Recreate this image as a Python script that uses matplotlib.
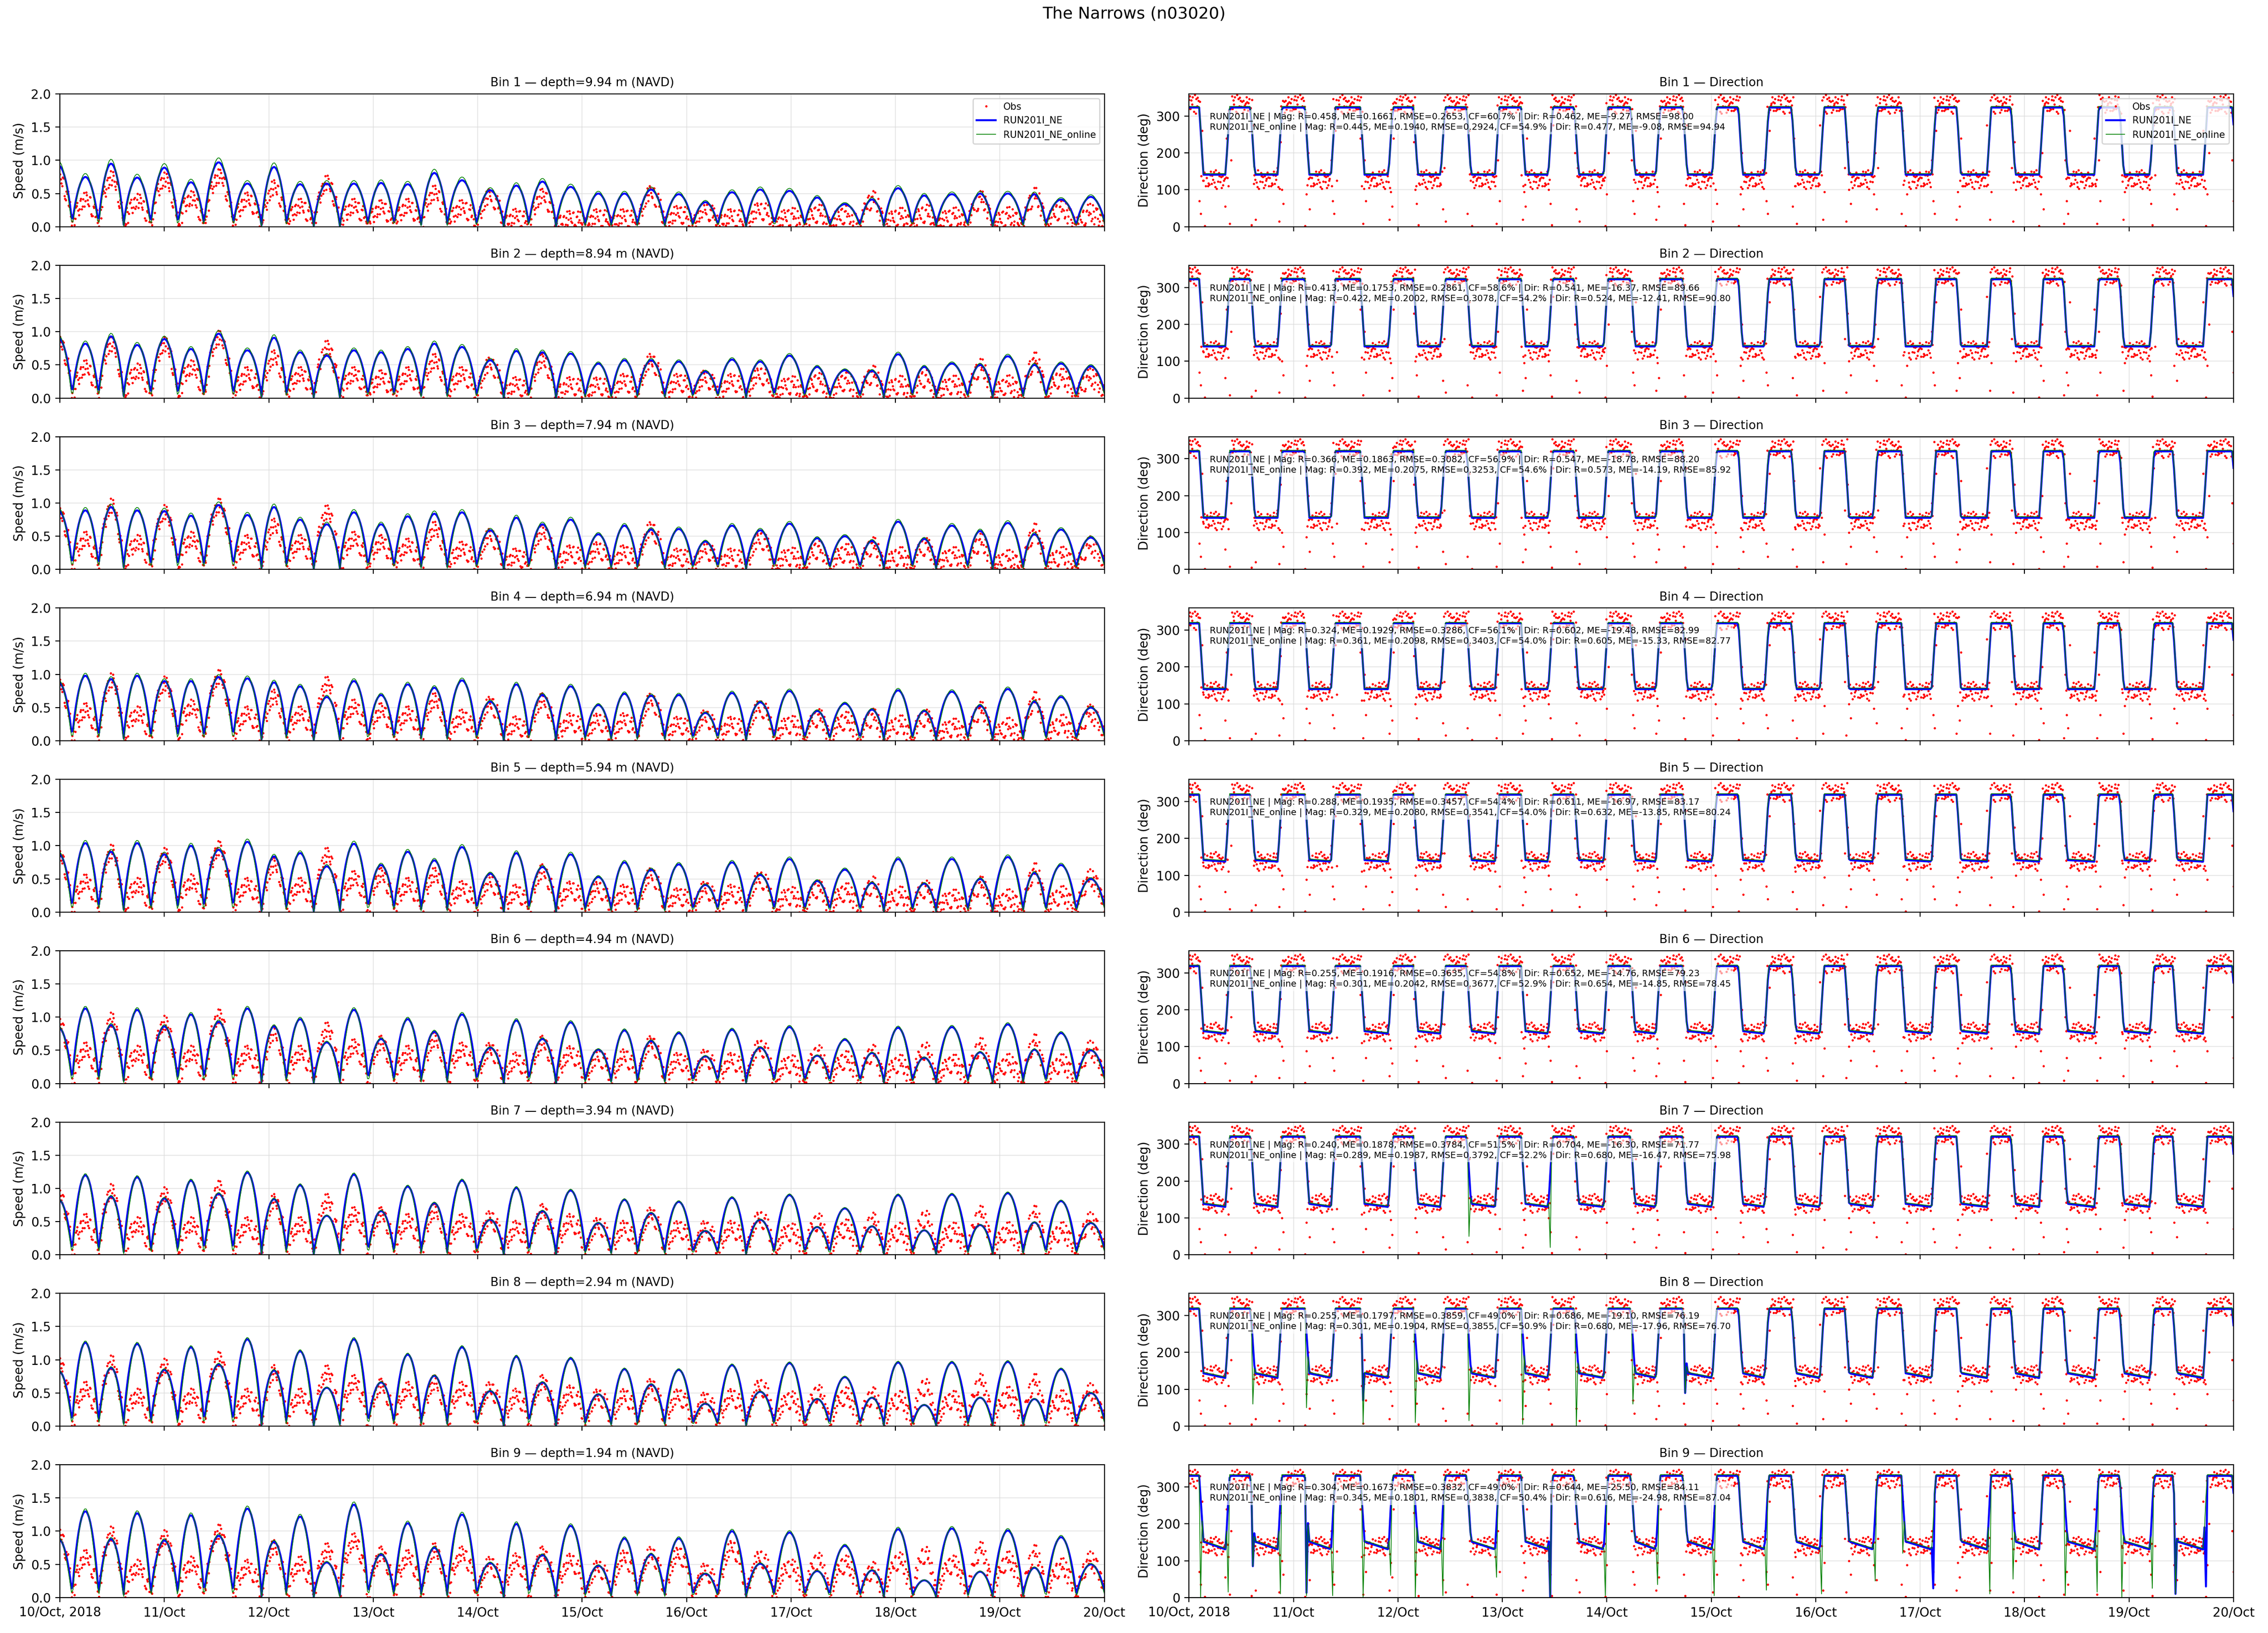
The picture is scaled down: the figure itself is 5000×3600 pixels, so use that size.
import numpy as np
import pandas as pd
import matplotlib
matplotlib.use("Agg")
import matplotlib.pyplot as plt
import matplotlib.dates as mdates
from matplotlib.ticker import FuncFormatter

station = "The Narrows (n03020)"
run_a = "RUN201I_NE"
run_b = "RUN201I_NE_online"
start = pd.Timestamp("2018-10-10 00:00")
end = pd.Timestamp("2018-10-20 00:00")

depths = [9.94, 8.94, 7.94, 6.94, 5.94, 4.94, 3.94, 2.94, 1.94]

# slack water times (days after 10/Oct 00:00)
slack_days = [-0.14, 0.118, 0.37, 0.61, 0.87, 1.13, 1.38, 1.66, 1.93, 2.17,
              2.43, 2.68, 2.95, 3.20, 3.46, 3.71, 3.99, 4.25, 4.49, 4.75,
              5.03, 5.28, 5.53, 5.79, 6.06, 6.30, 6.57, 6.84, 7.13, 7.37,
              7.66, 7.89, 8.16, 8.39, 8.69, 8.93, 9.22, 9.44, 9.73, 10.01, 10.25]

# model (RUN201I_NE) speed peak of every half tide, per bin
model_peaks = [
    [0.92, 0.75, 0.95, 0.74, 0.89, 0.67, 0.97, 0.65, 0.90, 0.64, 0.65, 0.65, 0.66, 0.64, 0.81, 0.70, 0.55, 0.62, 0.68, 0.60,
     0.50, 0.50, 0.56, 0.49, 0.37, 0.52, 0.56, 0.54, 0.44, 0.34, 0.41, 0.58, 0.47, 0.49, 0.50, 0.50, 0.49, 0.41, 0.45, 0.30],
    [0.90, 0.82, 0.93, 0.80, 0.89, 0.74, 0.97, 0.72, 0.91, 0.69, 0.64, 0.72, 0.69, 0.74, 0.82, 0.77, 0.57, 0.71, 0.69, 0.67,
     0.52, 0.57, 0.57, 0.55, 0.40, 0.58, 0.55, 0.64, 0.47, 0.42, 0.41, 0.66, 0.47, 0.52, 0.50, 0.63, 0.50, 0.52, 0.48, 0.30],
    [0.88, 0.89, 0.94, 0.89, 0.88, 0.81, 0.97, 0.82, 0.94, 0.75, 0.68, 0.86, 0.68, 0.80, 0.84, 0.86, 0.59, 0.78, 0.68, 0.75,
     0.53, 0.66, 0.60, 0.61, 0.42, 0.66, 0.59, 0.69, 0.47, 0.50, 0.43, 0.72, 0.46, 0.66, 0.58, 0.70, 0.53, 0.60, 0.48, 0.30],
    [0.88, 0.98, 0.93, 0.98, 0.90, 0.90, 0.96, 0.94, 0.88, 0.82, 0.66, 0.90, 0.69, 0.85, 0.80, 0.91, 0.59, 0.85, 0.69, 0.82,
     0.54, 0.71, 0.68, 0.69, 0.42, 0.72, 0.58, 0.75, 0.45, 0.56, 0.47, 0.76, 0.45, 0.74, 0.53, 0.78, 0.59, 0.66, 0.50, 0.30],
    [0.88, 1.04, 0.91, 1.04, 0.87, 1.00, 0.94, 1.06, 0.84, 0.89, 0.69, 1.03, 0.71, 0.91, 0.78, 0.98, 0.58, 0.89, 0.68, 0.87,
     0.53, 0.75, 0.64, 0.72, 0.41, 0.75, 0.56, 0.80, 0.47, 0.64, 0.44, 0.80, 0.43, 0.80, 0.50, 0.83, 0.59, 0.71, 0.50, 0.30],
    [0.84, 1.13, 0.88, 1.11, 0.86, 1.04, 0.93, 1.13, 0.86, 0.97, 0.62, 1.11, 0.67, 0.97, 0.78, 1.04, 0.54, 0.95, 0.67, 0.92,
     0.51, 0.80, 0.64, 0.76, 0.41, 0.81, 0.54, 0.85, 0.42, 0.66, 0.46, 0.84, 0.39, 0.85, 0.47, 0.89, 0.51, 0.76, 0.50, 0.30],
    [0.83, 1.20, 0.88, 1.17, 0.85, 1.12, 0.92, 1.24, 0.84, 1.05, 0.59, 1.21, 0.66, 1.03, 0.78, 1.12, 0.53, 1.01, 0.66, 0.97,
     0.48, 0.83, 0.63, 0.80, 0.36, 0.86, 0.53, 0.90, 0.42, 0.70, 0.43, 0.90, 0.37, 0.91, 0.45, 0.93, 0.49, 0.81, 0.48, 0.30],
    [0.83, 1.26, 0.88, 1.24, 0.85, 1.19, 0.93, 1.31, 0.84, 1.13, 0.58, 1.31, 0.66, 1.08, 0.76, 1.19, 0.53, 1.05, 0.66, 1.02,
     0.48, 0.86, 0.63, 0.85, 0.34, 0.92, 0.52, 0.95, 0.41, 0.74, 0.43, 0.96, 0.32, 0.96, 0.43, 0.97, 0.41, 0.86, 0.50, 0.30],
    [0.88, 1.30, 0.88, 1.27, 0.86, 1.24, 0.93, 1.34, 0.84, 1.22, 0.53, 1.40, 0.65, 1.12, 0.75, 1.25, 0.52, 1.11, 0.64, 1.08,
     0.48, 0.89, 0.65, 0.89, 0.36, 1.00, 0.51, 0.98, 0.40, 0.78, 0.41, 1.03, 0.26, 1.04, 0.39, 1.01, 0.45, 0.91, 0.50, 0.30],
]
online_gain = [1.07, 1.05, 1.05, 1.04, 1.04, 1.03, 1.02, 1.02, 1.03]

# observed speed level of every half tide, per bin
obs_peaks = [
    [0.72, 0.40, 0.72, 0.38, 0.70, 0.42, 0.75, 0.40, 0.58, 0.30, 0.65, 0.30, 0.28, 0.30, 0.50, 0.28, 0.45, 0.15, 0.45, 0.12,
     0.15, 0.15, 0.50, 0.20, 0.25, 0.15, 0.25, 0.15, 0.20, 0.18, 0.40, 0.15, 0.20, 0.15, 0.40, 0.15, 0.45, 0.25, 0.20, 0.20],
    [0.85, 0.45, 0.80, 0.40, 0.80, 0.45, 0.90, 0.35, 0.60, 0.35, 0.75, 0.35, 0.30, 0.35, 0.55, 0.35, 0.50, 0.20, 0.55, 0.20,
     0.20, 0.25, 0.55, 0.25, 0.30, 0.25, 0.35, 0.20, 0.25, 0.25, 0.35, 0.20, 0.30, 0.20, 0.45, 0.20, 0.55, 0.30, 0.30, 0.25],
    [0.85, 0.45, 0.95, 0.40, 0.85, 0.45, 0.95, 0.40, 0.65, 0.40, 0.85, 0.45, 0.40, 0.35, 0.60, 0.30, 0.50, 0.20, 0.55, 0.25,
     0.30, 0.25, 0.60, 0.20, 0.30, 0.20, 0.45, 0.20, 0.30, 0.25, 0.35, 0.20, 0.35, 0.20, 0.40, 0.15, 0.55, 0.20, 0.35, 0.25],
    [0.85, 0.45, 0.90, 0.40, 0.85, 0.50, 0.95, 0.40, 0.65, 0.40, 0.85, 0.50, 0.45, 0.40, 0.60, 0.35, 0.55, 0.25, 0.60, 0.30,
     0.30, 0.30, 0.60, 0.25, 0.35, 0.25, 0.50, 0.25, 0.35, 0.30, 0.35, 0.25, 0.35, 0.20, 0.45, 0.20, 0.60, 0.25, 0.40, 0.25],
    [0.85, 0.45, 0.90, 0.40, 0.85, 0.45, 0.95, 0.40, 0.70, 0.40, 0.85, 0.50, 0.55, 0.40, 0.55, 0.35, 0.45, 0.30, 0.60, 0.35,
     0.35, 0.30, 0.55, 0.25, 0.35, 0.30, 0.50, 0.25, 0.35, 0.30, 0.40, 0.25, 0.35, 0.20, 0.40, 0.20, 0.60, 0.25, 0.50, 0.25],
    [0.90, 0.50, 0.95, 0.45, 0.90, 0.45, 1.00, 0.45, 0.75, 0.45, 0.80, 0.55, 0.60, 0.45, 0.65, 0.50, 0.50, 0.35, 0.60, 0.45,
     0.40, 0.40, 0.60, 0.35, 0.40, 0.35, 0.55, 0.30, 0.45, 0.35, 0.45, 0.30, 0.50, 0.30, 0.55, 0.30, 0.60, 0.30, 0.50, 0.30],
    [0.90, 0.50, 0.95, 0.45, 0.90, 0.45, 1.00, 0.45, 0.80, 0.45, 0.80, 0.60, 0.60, 0.50, 0.65, 0.50, 0.55, 0.40, 0.65, 0.50,
     0.45, 0.40, 0.60, 0.40, 0.40, 0.40, 0.55, 0.35, 0.50, 0.40, 0.50, 0.35, 0.55, 0.35, 0.60, 0.35, 0.60, 0.35, 0.50, 0.30],
    [0.95, 0.55, 0.95, 0.45, 0.90, 0.45, 1.00, 0.45, 0.80, 0.45, 0.80, 0.65, 0.60, 0.55, 0.65, 0.55, 0.55, 0.45, 0.65, 0.50,
     0.45, 0.45, 0.60, 0.45, 0.40, 0.45, 0.60, 0.40, 0.50, 0.45, 0.45, 0.40, 0.60, 0.40, 0.65, 0.45, 0.65, 0.40, 0.50, 0.30],
    [0.95, 0.60, 0.95, 0.45, 0.90, 0.50, 0.98, 0.45, 0.75, 0.50, 0.70, 0.85, 0.65, 0.60, 0.70, 0.65, 0.50, 0.55, 0.65, 0.55,
     0.45, 0.60, 0.65, 0.65, 0.40, 0.75, 0.60, 0.45, 0.55, 0.50, 0.40, 0.55, 0.65, 0.50, 0.70, 0.55, 0.65, 0.45, 0.55, 0.30],
]

# direction plateaus (deg) for the two tidal phases, per bin
model_dir_even = [323, 322, 320, 318, 318, 318, 320, 318, 330]
model_dir_odd = [141, 140, 140, 140, 140, 140, 136, 140, 146]
model_dir_tilt_odd = [0, 0, 0, 0, -5, -8, -10, -15, -25]
obs_dir_even = [332, 330, 328, 326, 325, 325, 325, 325, 322]
obs_dir_odd = [128, 130, 132, 135, 138, 140, 140, 140, 140]

# short direction swings of the models at turning tide: (bin, day, deg)
spikes_a = [(9, 0.62, 85), (9, 1.11, 13), (9, 3.46, 0), (9, 7.13, 25), (9, 9.44, 10), (9, 9.73, 30),
            (8, 4.75, 90), (8, 1.66, 70)]
spikes_b = [(9, 0.11, 0), (9, 0.37, 15), (9, 0.62, 85), (9, 0.87, 10), (9, 1.13, 5), (9, 1.38, 5),
            (9, 1.66, 0), (9, 1.93, 60), (9, 2.17, 0), (9, 2.43, 5), (9, 2.95, 55), (9, 3.46, 0),
            (9, 3.99, 5), (9, 4.49, 35), (9, 5.03, 5), (9, 5.53, 20), (9, 6.06, 10), (9, 6.57, 45),
            (9, 6.84, 120), (9, 7.66, 10), (9, 7.89, 50), (9, 8.39, 5), (9, 8.69, 15), (9, 8.93, 0),
            (9, 9.22, 25), (9, 9.44, 10),
            (8, 0.61, 60), (8, 1.13, 50), (8, 1.66, 5), (8, 2.17, 10), (8, 2.68, 15), (8, 3.20, 5),
            (8, 3.71, 0), (8, 4.25, 60), (8, 4.75, 90),
            (7, 2.68, 50), (7, 3.46, 20)]

# scatter seen in the observations
speed_scatter = [0.08, -0.11, 0.03, 0.14, -0.05, -0.13, 0.10, 0.01, -0.08, 0.12, -0.02, 0.06, -0.14,
                 0.09, -0.04, 0.13, -0.09, 0.02, 0.07, -0.12, 0.11, -0.06, 0.04, -0.01, 0.15, -0.10,
                 0.05, -0.03, 0.09, -0.15, 0.12, 0.00, -0.07, 0.06, -0.12, 0.10, -0.04]
dir_scatter = [12, -8, 18, -15, 4, 22, -20, 9, -3, 15, -12, 25, -6, 2, -18, 11, -25, 7, 19, -10,
               0, 14, -22, 6, -14, 20, -5, 10, -17]
dir_outliers = [20, 95, 55, 240, 110, 8, 180, 70, 35, 260, 125, 2, 88, 200, 48, 160, 15, 230,
                100, 62, 5, 275, 140]

# skill scores printed on the direction panels
mag_r_a = [0.458, 0.413, 0.366, 0.324, 0.288, 0.255, 0.240, 0.255, 0.304]
mag_me_a = [0.1661, 0.1753, 0.1863, 0.1929, 0.1935, 0.1916, 0.1878, 0.1797, 0.1673]
mag_rmse_a = [0.2653, 0.2861, 0.3082, 0.3286, 0.3457, 0.3635, 0.3784, 0.3859, 0.3832]
mag_cf_a = [60.7, 58.6, 56.9, 56.1, 54.4, 54.8, 51.5, 49.0, 49.0]
dir_r_a = [0.462, 0.541, 0.547, 0.602, 0.611, 0.652, 0.704, 0.686, 0.644]
dir_me_a = [-9.27, -16.37, -18.78, -19.48, -16.97, -14.76, -16.30, -19.10, -25.50]
dir_rmse_a = [98.00, 89.66, 88.20, 82.99, 83.17, 79.23, 71.77, 76.19, 84.11]
mag_r_b = [0.445, 0.422, 0.392, 0.361, 0.329, 0.301, 0.289, 0.301, 0.345]
mag_me_b = [0.1940, 0.2002, 0.2075, 0.2098, 0.2080, 0.2042, 0.1987, 0.1904, 0.1801]
mag_rmse_b = [0.2924, 0.3078, 0.3253, 0.3403, 0.3541, 0.3677, 0.3792, 0.3855, 0.3838]
mag_cf_b = [54.9, 54.2, 54.6, 54.0, 54.0, 52.9, 52.2, 50.9, 50.4]
dir_r_b = [0.477, 0.524, 0.573, 0.605, 0.632, 0.654, 0.680, 0.680, 0.616]
dir_me_b = [-9.08, -12.41, -14.19, -15.33, -13.85, -14.85, -16.47, -17.96, -24.98]
dir_rmse_b = [94.94, 90.80, 85.92, 82.77, 80.24, 78.45, 75.98, 76.70, 87.04]


slack = np.array(slack_days)


def tide_phase(days):
    idx = np.searchsorted(slack, days, side="right") - 1
    phase = (days - slack[idx]) / (slack[idx + 1] - slack[idx])
    return idx, phase


def hump(days, peaks, sharp=0.85):
    idx, phase = tide_phase(days)
    return np.asarray(peaks)[idx] * np.sin(np.pi * phase) ** sharp


def model_direction(days, even_val, odd_val, tilt, half=0.02):
    idx, phase = tide_phase(days)
    level = lambda i: np.where(i % 2 == 0, even_val, odd_val)
    cur = level(idx) + np.where(idx % 2 == 1, tilt * (phase - 0.3), 0)
    since = days - slack[idx]
    until = slack[idx + 1] - days
    w_in = np.clip(0.5 + since / (2 * half), 0, 1)
    w_out = np.clip(0.5 - until / (2 * half), 0, 1)
    out = level(idx - 1) * (1 - w_in) + cur * w_in
    out = out * (1 - w_out) + level(idx + 1) * w_out
    return out


def put_spikes(days, values, spikes, bin_no):
    values = values.copy()
    for b, d, v in spikes:
        if b == bin_no:
            s = slack[np.argmin(np.abs(slack - d))]
            values[np.argmin(np.abs(days - s))] = v
    return values


t_mod = np.arange(0, 10 + 1e-9, 1 / 72)
t_obs = np.arange(0, 10 + 1e-9, 1 / 144)
x_mod = start + pd.to_timedelta(t_mod, unit="D")
x_obs = start + pd.to_timedelta(t_obs, unit="D")

k = np.arange(len(t_obs))
sp_jit = np.array(speed_scatter)[(k * 7) % len(speed_scatter)]
dr_jit = np.array(dir_scatter)[(k * 5) % len(dir_scatter)]
out_val = np.array(dir_outliers)[(k // 2) % len(dir_outliers)]

fig, axes = plt.subplots(9, 2, figsize=(25, 18), sharex=True)
fig.subplots_adjust(left=0.0264, right=0.9848, top=0.9425, bottom=0.0217,
                    hspace=0.29, wspace=0.081)
fig.suptitle(station, fontsize=13, y=0.996, va="top")

for b in range(9):
    ax_s, ax_d = axes[b, 0], axes[b, 1]

    spd_a = hump(t_mod, model_peaks[b], 0.75)
    spd_b = hump(t_mod, np.array(model_peaks[b]) * online_gain[b], 1.0)
    spd_o = np.abs(hump(t_obs, obs_peaks[b]) + sp_jit)

    dir_a = model_direction(t_mod, model_dir_even[b], model_dir_odd[b], model_dir_tilt_odd[b])
    dir_b = model_direction(t_mod, model_dir_even[b] + 3, model_dir_odd[b] + 3,
                            model_dir_tilt_odd[b], half=0.017)
    dir_a = put_spikes(t_mod, dir_a, spikes_a, b + 1)
    dir_b = put_spikes(t_mod, dir_b, spikes_b, b + 1)

    idx_o, ph_o = tide_phase(t_obs)
    even_o = idx_o % 2 == 0
    dir_o = np.where(even_o, obs_dir_even[b], obs_dir_odd[b]) + dr_jit
    near_slack = ((ph_o < 0.14) | (ph_o > 0.9)) & (k % 2 == 0)
    dir_o = np.where(near_slack, out_val, dir_o)
    dir_o = np.clip(dir_o, 0, 360)

    ax_s.plot(x_obs, spd_o, "o", color="red", ms=1.8, mew=0, label="Obs")
    ax_s.plot(x_mod, spd_a, color="blue", lw=1.6, label=run_a)
    ax_s.plot(x_mod, spd_b, color="green", lw=0.6, label=run_b)
    ax_s.set_ylim(0, 2)
    ax_s.set_yticks([0, 0.5, 1.0, 1.5, 2.0])
    ax_s.set_ylabel("Speed (m/s)")
    ax_s.set_title(f"Bin {b + 1} \u2014 depth={depths[b]:.2f} m (NAVD)", fontsize=9.5)

    ax_d.plot(x_obs, dir_o, "o", color="red", ms=1.8, mew=0, label="Obs")
    ax_d.plot(x_mod, dir_a, color="blue", lw=1.6, label=run_a)
    ax_d.plot(x_mod, dir_b, color="green", lw=0.6, label=run_b)
    ax_d.set_ylim(0, 360)
    ax_d.set_yticks([0, 100, 200, 300])
    ax_d.set_ylabel("Direction (deg)")
    ax_d.set_title(f"Bin {b + 1} \u2014 Direction", fontsize=9.5)

    txt = (f"{run_a} | Mag: R={mag_r_a[b]:.3f}, ME={mag_me_a[b]:.4f}, RMSE={mag_rmse_a[b]:.4f}, "
           f"CF={mag_cf_a[b]:.1f}% | Dir: R={dir_r_a[b]:.3f}, ME={dir_me_a[b]:.2f}, RMSE={dir_rmse_a[b]:.2f}\n"
           f"{run_b} | Mag: R={mag_r_b[b]:.3f}, ME={mag_me_b[b]:.4f}, RMSE={mag_rmse_b[b]:.4f}, "
           f"CF={mag_cf_b[b]:.1f}% | Dir: R={dir_r_b[b]:.3f}, ME={dir_me_b[b]:.2f}, RMSE={dir_rmse_b[b]:.2f}")
    ax_d.text(0.02, 0.86, txt, transform=ax_d.transAxes, fontsize=7, va="top", ha="left",
              bbox=dict(boxstyle="square,pad=0.25", fc="white", ec="none", alpha=0.6))

    for ax in (ax_s, ax_d):
        ax.grid(True, color="0.85", alpha=0.6, lw=0.8)
        ax.set_xlim(start, end)

    if b == 0:
        ax_s.legend(loc="upper right", fontsize=7.5)
        ax_d.legend(loc="upper right", fontsize=7.5)


def day_label(x, pos):
    d = mdates.num2date(x)
    if pos == 0:
        return d.strftime("%d/%b, %Y")
    return d.strftime("%d/%b")


for ax in axes[-1]:
    ax.xaxis.set_major_locator(mdates.DayLocator())
    ax.xaxis.set_major_formatter(FuncFormatter(day_label))

fig.savefig("out.png", dpi=200)
